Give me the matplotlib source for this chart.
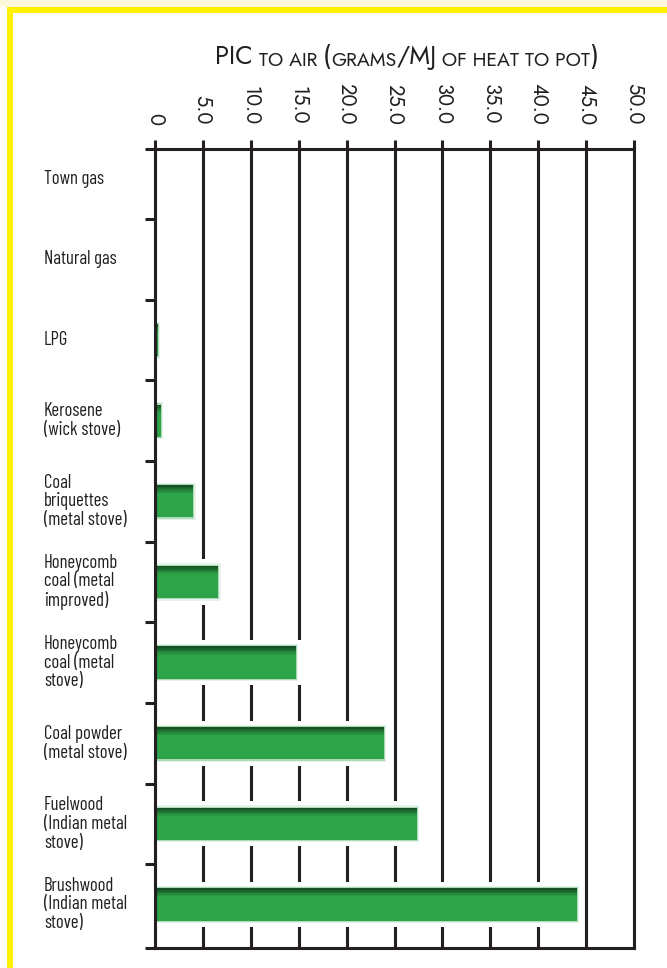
import matplotlib
matplotlib.use("Agg")
import matplotlib.pyplot as plt
from matplotlib.patches import Rectangle

# PIC to air per fuel/stove combination, grams per MJ of heat delivered to pot
categories = [
    "Town gas",
    "Natural gas",
    "LPG",
    "Kerosene\n(wick stove)",
    "Coal\nbriquettes\n(metal stove)",
    "Honeycomb\ncoal (metal\nimproved)",
    "Honeycomb\ncoal (metal\nstove)",
    "Coal powder\n(metal stove)",
    "Fuelwood\n(Indian metal\nstove)",
    "Brushwood\n(Indian metal\nstove)",
]
pic_to_air = [0.0, 0.0, 0.3, 0.6, 4.0, 6.6, 14.7, 23.9, 27.3, 44.0]
x_ticks = [0, 5, 10, 15, 20, 25, 30, 35, 40, 45, 50]
x_tick_labels = ["0", "5.0", "10.0", "15.0", "20.0", "25.0",
                 "30.0", "35.0", "40.0", "45.0", "50.0"]

INK = "#231f20"
GREEN = "#2ea349"
GEO = ["Jost", "DejaVu Sans"]
COND = ["Barlow Condensed", "DejaVu Sans"]
W, H = 667, 968

fig = plt.figure(figsize=(W / 100, H / 100), dpi=100)
fig.patch.set_facecolor("white")


def _px_rect(x0, y0, w, h, color):
    fig.patches.append(Rectangle((x0 / W, 1 - (y0 + h) / H), w / W, h / H,
                                 transform=fig.transFigure, color=color, lw=0, zorder=0))


# yellow page frame (top and left), cream strip above it
_px_rect(0, 0, W, 7, "#fdf8dc")
_px_rect(7, 7, W - 7, 6, "#fff200")
_px_rect(7, 7, 6, H - 7, "#fff200")

ax = fig.add_axes([155 / W, 1 - 948 / H, (634 - 155) / W, (948 - 149) / H])
ax.set_xlim(0, 50)
ax.set_ylim(9.54, -0.37)
ax.set_axisbelow(True)

for s in ax.spines.values():
    s.set_linewidth(2.2)
    s.set_color(INK)
    s.set_zorder(6)

# x axis on top, rotated labels
ax.xaxis.tick_top()
ax.set_xticks(x_ticks)
ax.set_xticklabels(x_tick_labels, rotation=-90, fontfamily=GEO,
                   fontsize=14.5, color=INK)
ax.tick_params(axis="x", direction="out", length=6.5, width=2.2, pad=11, color=INK)
ax.grid(axis="x", color=INK, lw=2.2)

# y ticks at category boundaries, labels on minor ticks
ylo, yhi = ax.get_ylim()[1], ax.get_ylim()[0]
bounds = [ylo] + [i + 0.5 for i in range(len(categories) - 1)] + [yhi]
ax.set_yticks(bounds)
ax.set_yticklabels([""] * len(bounds))
ax.tick_params(axis="y", which="major", direction="out", length=7.5, width=2.2, color=INK)
ax.set_yticks(range(len(categories)), minor=True)
ax.set_yticklabels(categories, minor=True, ha="left", va="center",
                   fontfamily=COND, fontsize=13.5, color=INK, linespacing=1.05)
ax.tick_params(axis="y", which="minor", length=0, pad=80)

# bars: white halo, green body, blurred dark edge along top and left
bar_h = 0.4
for i, v in enumerate(pic_to_air):
    if v <= 0:
        continue
    ax.barh(i, v + 0.6, height=bar_h + 0.16, color="white", lw=0, zorder=2)
    for k, a in enumerate([0.12, 0.3]):
        grow = 0.03 * (2 - k)
        ax.barh(i, v + grow * 4, height=bar_h + grow, color=GREEN, alpha=a, lw=0, zorder=3)
    ax.barh(i, v, height=bar_h, color=GREEN, lw=0, zorder=3)
    for k, a in enumerate([0.5, 0.4, 0.28, 0.16, 0.07]):
        ax.barh(i - bar_h / 2 + 0.01 + 0.02 * k, v, height=0.02,
                color="black", alpha=a, lw=0, zorder=4)
    for k, a in enumerate([0.5, 0.3, 0.12]):
        ax.barh(i, min(v, 0.1 * (k + 1)), height=bar_h, color="black",
                alpha=a / 2, lw=0, zorder=4)

# title in small caps style, chained fragments
big, small = 18.5, 14
pieces = [("PIC", big), (" TO AIR ", small), ("(", big), ("GRAMS", small), ("/MJ", big),
          (" OF HEAT TO POT", small), (")", big)]
prev = fig.text(215 / W, 1 - 64 / H, pieces[0][0], fontsize=pieces[0][1],
                fontfamily=GEO, color=INK, va="baseline")
for txt, sz in pieces[1:]:
    prev = ax.annotate(txt, xy=(1, 0), xycoords=prev, va="bottom", ha="left",
                       fontsize=sz, fontfamily=GEO, color=INK, annotation_clip=False)

fig.savefig("out.png", dpi=100)
